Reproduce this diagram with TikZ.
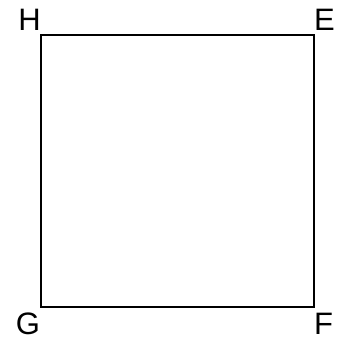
\documentclass[tikz,border=0pt]{standalone}
\usepackage{fontspec}
\setmainfont{Liberation Sans}
\usetikzlibrary{positioning}
\tikzset{
  every picture/.style={
    line width=1.3pt
  },
  corner/.style={inner sep=0pt, font=\fontsize{31}{31}\selectfont}
}

\begin{document}
\begin{tikzpicture}[x=1pt, y=1pt]
  \useasboundingbox (0,0) rectangle (342,340);
  \coordinate (h) at (41,305);
  \coordinate (e) at (314,305);
  \coordinate (f) at (314,33);
  \coordinate (g) at (41,33);

  \draw (h) -- (e) -- (f) -- (g) -- cycle;

  \node[corner] (hlab) at (29.5,320.5) {H};
  \node[corner] (elab) at (324.5,320.5) {E};
  \node[corner] (glab) at (28,16) {G};
  \node[corner] (flab) at (323.5,16) {F};
\end{tikzpicture}
\end{document}
